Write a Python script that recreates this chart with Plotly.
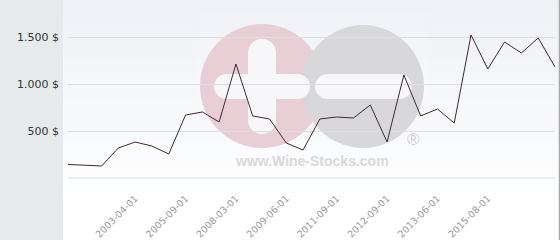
import plotly.graph_objects as go

# ---- data ----
x_index = list(range(30))
prices = [144, 138, 128, 319, 383, 340, 255, 670, 702, 596,
          1213, 660, 628, 372, 298, 628, 649, 638, 777, 383,
          1096, 660, 734, 585, 1521, 1160, 1447, 1330, 1490, 1181]
tick_pos = [4, 7, 10, 13, 16, 19, 22, 25]
tick_labels = ["2003-04-01", "2005-09-01", "2008-03-01", "2009-06-01",
               "2011-09-01", "2012-09-01", "2013-06-01", "2015-08-01"]
y_ticks = [0, 500, 1000, 1500]
y_tick_labels = ["", "500 $", "1.000 $", "1.500 $"]

W, H = 560, 240
L, R, T, B = 68, 5, 5, 62
PW, PH = W - L - R, H - T - B


def px(x):
    return (x - L) / PW


def py(y):
    return (H - B - y) / PH


shapes = []
# left panel
shapes.append(dict(type="rect", xref="paper", yref="paper", x0=px(0), x1=px(63),
                   y0=py(240), y1=py(0), fillcolor="#e6eaed", line_width=0, layer="below"))
# gradient background bands
top = (239, 241, 246)
n = 24
for i in range(n):
    f = min(1.0, i / 20)
    c = tuple(int(round(top[k] + (255 - top[k]) * f)) for k in range(3))
    shapes.append(dict(type="rect", xref="paper", yref="paper", x0=px(63), x1=px(560),
                       y0=py(min(240, (i + 1) * 10)), y1=py(i * 10),
                       fillcolor="rgb(%d,%d,%d)" % c, line_width=0, layer="below"))
# watermark box (very faint)
shapes.append(dict(type="rect", xref="paper", yref="paper", x0=px(198), x1=px(428),
                   y0=py(175), y1=py(15), fillcolor="rgba(255,255,255,0.12)", line_width=0, layer="below"))
# pink circle
shapes.append(dict(type="circle", xref="paper", yref="paper", x0=px(200), x1=px(324),
                   y0=py(148), y1=py(24), fillcolor="#e8cfd6", line_width=0, layer="below"))
# gray circle
shapes.append(dict(type="circle", xref="paper", yref="paper", x0=px(302), x1=px(424),
                   y0=py(148), y1=py(25), fillcolor="#d8d8da", line_width=0, layer="below"))

WHITE = "#f7f7f9"


def pill(x0, x1, y0, y1):
    out = []
    w, h = x1 - x0, y1 - y0
    if w < h:
        r = w / 2
        out.append(dict(type="rect", x0=x0, x1=x1, y0=y0 + r, y1=y1 - r))
        out.append(dict(type="circle", x0=x0, x1=x1, y0=y0, y1=y0 + w))
        out.append(dict(type="circle", x0=x0, x1=x1, y0=y1 - w, y1=y1))
    else:
        r = h / 2
        out.append(dict(type="rect", x0=x0 + r, x1=x1 - r, y0=y0, y1=y1))
        out.append(dict(type="circle", x0=x0, x1=x0 + h, y0=y0, y1=y1))
        out.append(dict(type="circle", x0=x1 - h, x1=x1, y0=y0, y1=y1))
    res = []
    for s in out:
        res.append(dict(type=s["type"], xref="paper", yref="paper",
                        x0=px(s["x0"]), x1=px(s["x1"]), y0=py(s["y1"]), y1=py(s["y0"]),
                        fillcolor=WHITE, line_width=0, layer="below"))
    return res


shapes += pill(248, 276, 39, 134)
shapes += pill(214, 310, 74, 99)
shapes += pill(315, 412, 74, 99)
# baseline (0 gridline)
shapes.append(dict(type="line", xref="paper", yref="paper", x0=0, x1=1, y0=0, y1=0,
                   line=dict(color="#dcdde0", width=1), layer="below"))
# right border
shapes.append(dict(type="line", xref="paper", yref="paper", x0=px(559.5), x1=px(559.5),
                   y0=py(240), y1=py(0), line=dict(color="#a8a8a8", width=1.5)))

annotations = [
    dict(text="<b>www.Wine-Stocks.com</b>", xref="paper", yref="paper", x=px(312), y=py(161),
         showarrow=False, font=dict(family="Liberation Sans, Arial", size=14, color="#d9d9db"),
         xanchor="center", yanchor="middle"),
    dict(text="®", xref="paper", yref="paper", x=px(413), y=py(139),
         showarrow=False, font=dict(family="Liberation Sans, Arial", size=17, color="#cfcfd1"),
         xanchor="center", yanchor="middle"),
]

fig = go.Figure()
fig.add_trace(go.Scatter(x=x_index, y=prices, mode="lines",
                         line=dict(color="#3d2a33", width=1), hoverinfo="skip"))

fig.update_layout(
    width=W, height=H, margin=dict(l=L, r=R, t=T, b=B, pad=0, autoexpand=False),
    paper_bgcolor="white", plot_bgcolor="rgba(0,0,0,0)",
    showlegend=False, shapes=shapes, annotations=annotations,
    xaxis=dict(range=[0, 29], tickmode="array", tickvals=tick_pos, ticktext=tick_labels,
               tickangle=-45, showgrid=False, zeroline=False, showline=False, ticks="",
               automargin=False,
               tickfont=dict(family="DejaVu Sans", size=9.5, color="#9a9a9a"),
               ticklabelstandoff=12),
    yaxis=dict(range=[0, PH / 47 * 500], tickmode="array", tickvals=y_ticks, ticktext=y_tick_labels,
               showgrid=True, gridcolor="#dedfe2", gridwidth=1, zeroline=False, showline=False,
               automargin=False,
               ticks="", tickfont=dict(family="DejaVu Sans", size=11, color="#333333"),
               ticklabelstandoff=8),
)

fig.write_html("out.html")
